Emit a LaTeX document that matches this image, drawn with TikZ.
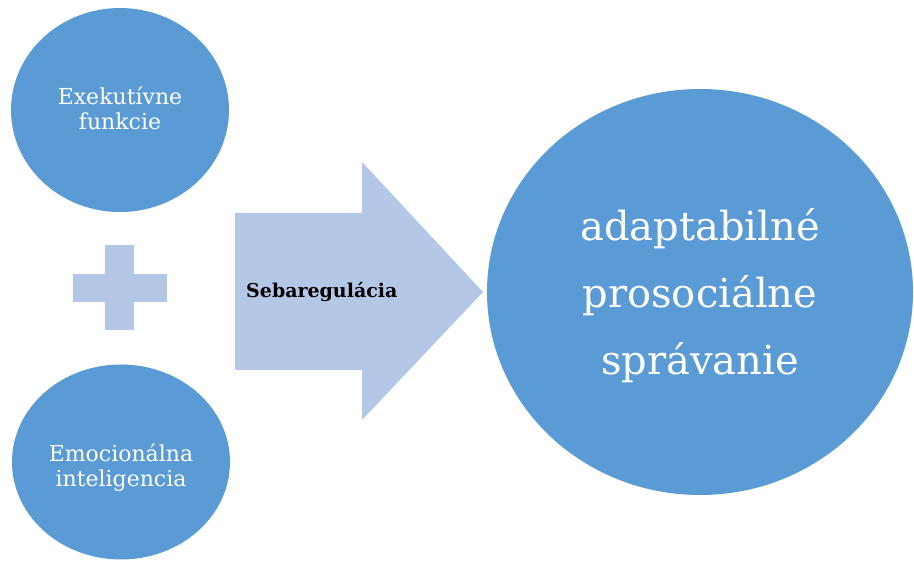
\documentclass[tikz,border=0pt]{standalone}
\usepackage{fontspec}
\setmainfont{DejaVu Serif}[BoldFont={DejaVu Serif Bold}]
\usetikzlibrary{shapes.geometric}
\definecolor{circblue}{HTML}{5B9BD5}
\definecolor{lightblue}{HTML}{B4C7E7}
\begin{document}
\begin{tikzpicture}[x=1pt,y=-1pt,
  bubble/.style={ellipse,fill=circblue,draw=none,inner sep=0pt},
  bubbletext/.style={text=white,align=center,inner sep=0pt},
  light/.style={fill=lightblue,draw=none}]
\useasboundingbox (0,0) rectangle (914,564);
\node[bubble,minimum width=218,minimum height=204] (ef) at (120,110) {};
\node[bubbletext,font=\fontsize{22}{25}\selectfont] (eft) at ([yshift=2]ef.center) {Exekutívne\\funkcie};
\node[bubble,minimum width=218,minimum height=195] (ei) at (121,462) {};
\node[bubbletext,font=\fontsize{22}{25}\selectfont] (eit) at ([yshift=-6]ei.center) {Emocionálna\\inteligencia};
\node[bubble,minimum width=426,minimum height=406] (aps) at (700,292) {};
\node[bubbletext,font=\fontsize{40}{67}\selectfont] (apst) at ([yshift=-4]aps.center) {adaptabilné\\prosociálne\\správanie};
% plus sign
\fill[light] (105,245) rectangle (134,330);
\fill[light] (73,274) rectangle (167,302);
% arrow
\fill[light] (235,213) -- (362,213) -- (362,162) -- (483,292) -- (362,420) -- (362,370) -- (235,370) -- cycle;
\node[anchor=west,inner sep=0pt,font=\fontsize{19}{20}\selectfont\bfseries,text=black] (sr) at (246,292) {Sebaregulácia};
\end{tikzpicture}
\end{document}
